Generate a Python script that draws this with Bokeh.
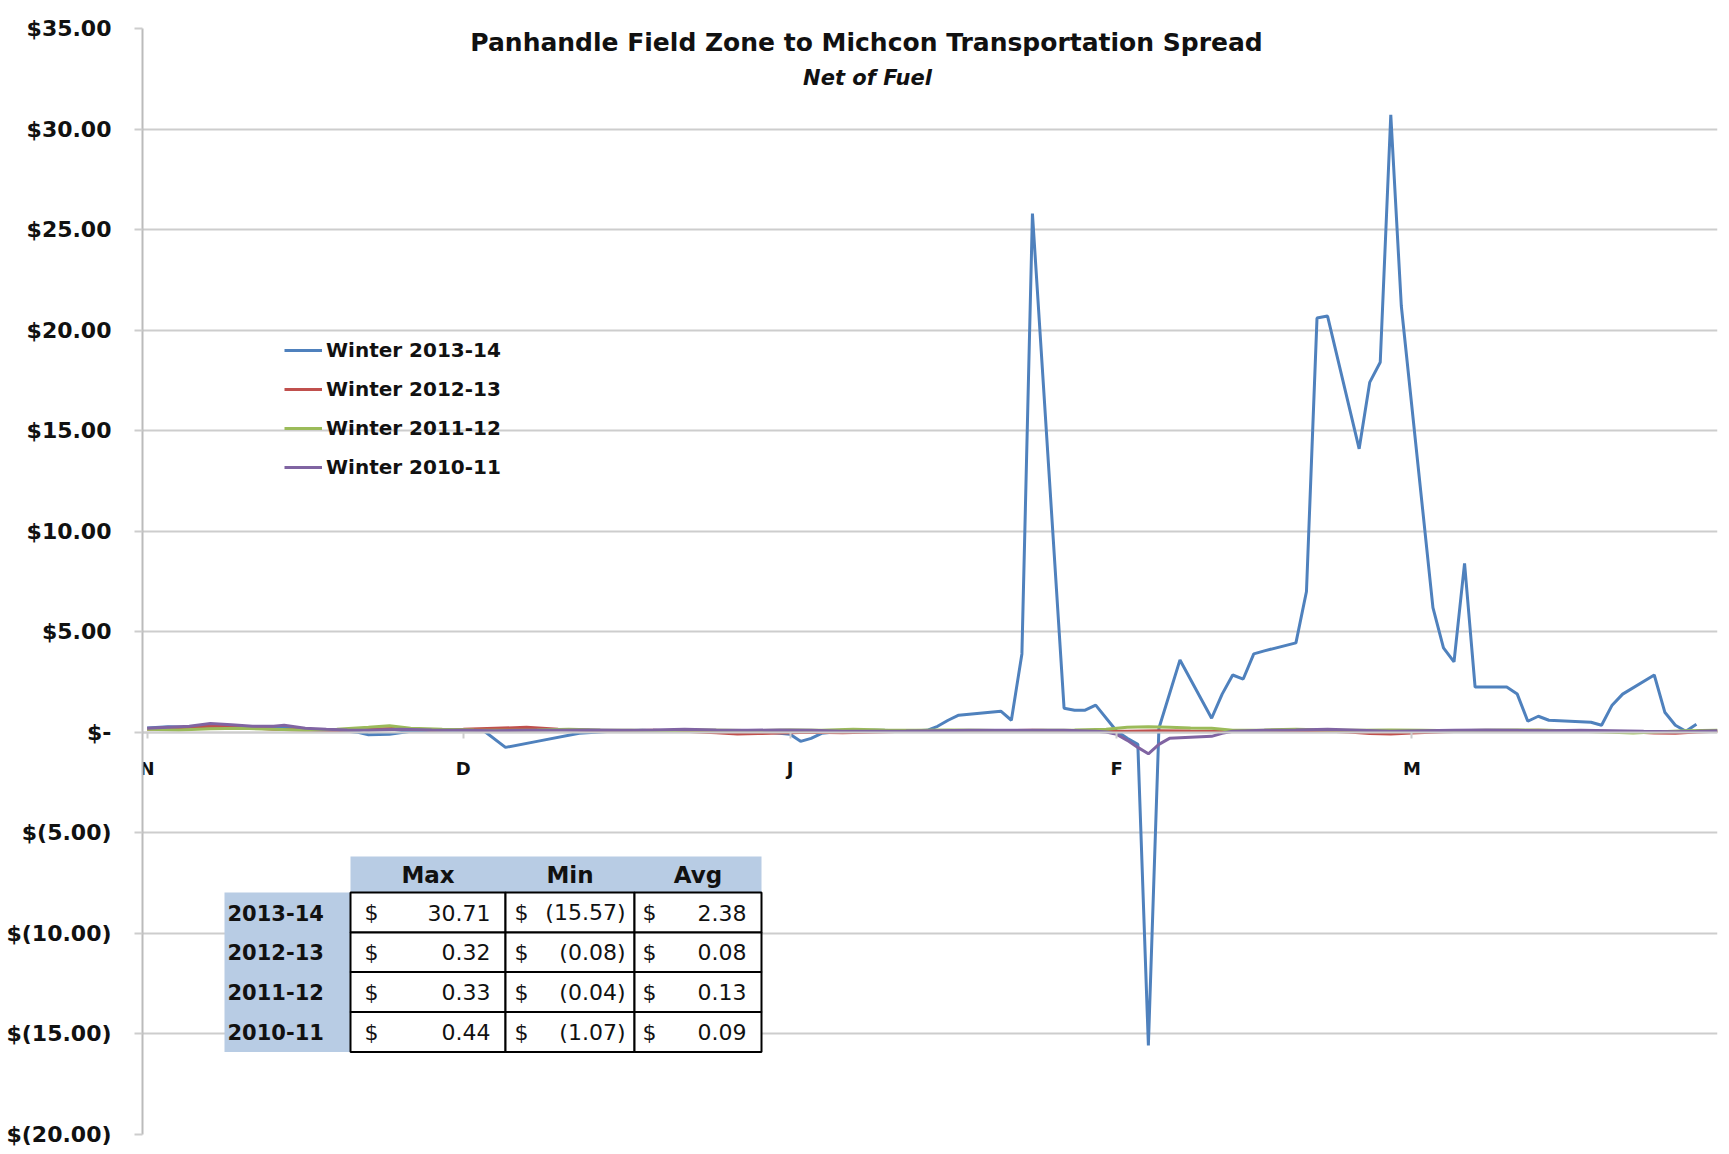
from bokeh.plotting import figure
from bokeh.models import FixedTicker, Legend, LegendItem, Label, Range1d
from bokeh.core.properties import value
from bokeh.embed import file_html
from bokeh.resources import INLINE

# ---------------- data (day index: 0 = Nov 1) ----------------
month_ticks = [0, 30, 61, 92, 120]
month_labels = ["N", "D", "J", "F", "M"]

y_ticks = [35, 30, 25, 20, 15, 10, 5, 0, -5, -10, -15, -20]
y_tick_labels = ["$35.00", "$30.00", "$25.00", "$20.00", "$15.00", "$10.00", "$5.00",
                 "$-", "$(5.00)", "$(10.00)", "$(15.00)", "$(20.00)"]

series_names = ["Winter 2013-14", "Winter 2012-13", "Winter 2011-12", "Winter 2010-11"]

days_1314 = [0, 2, 4, 6, 8, 10, 12, 14, 16, 18, 20, 21, 23, 25, 27, 29, 31, 32, 34, 37,
             41, 44, 47, 50, 53, 56, 59, 61, 62, 63, 64, 66, 69, 72, 73, 74, 75, 76, 77, 78,
             80, 81, 82, 83, 84, 87, 88, 89, 90, 92, 93, 94, 95, 96, 98, 101, 102, 103, 104, 105,
             106, 109, 110, 111, 112, 115, 116, 117, 118, 119, 122, 123, 124, 125, 126, 129, 130, 131, 132, 133,
             137, 138, 139, 140, 143, 144, 145, 146, 147]
vals_1314 = [0.22, 0.28, 0.25, 0.32, 0.28, 0.2, 0.25, 0.18, 0.12, 0.1, 0.0, -0.12, -0.1, 0.05, 0.1, 0.12, 0.1, 0.05, -0.75, -0.45,
             -0.05, 0.05, 0.1, 0.08, 0.05, 0.02, 0.0, -0.1, -0.45, -0.3, -0.05, 0.05, 0.1, 0.08, 0.08, 0.1, 0.3, 0.6, 0.85, 0.9,
             1.0, 1.05, 0.6, 3.9, 25.8, 1.2, 1.1, 1.1, 1.35, 0.05, -0.3, -0.6, -15.57, 0.2, 3.6, 0.7, 1.9, 2.85, 2.65, 3.9,
             4.05, 4.45, 7.0, 20.6, 20.7, 14.1, 17.4, 18.4, 30.71, 21.2, 6.2, 4.2, 3.5, 8.4, 2.25, 2.25, 1.9, 0.55, 0.8, 0.6,
             0.5, 0.35, 1.35, 1.9, 2.85, 1.0, 0.35, 0.05, 0.4]

days_1213 = [0, 3, 6, 9, 12, 15, 18, 21, 24, 27, 30, 33, 36, 39, 42, 45, 48, 51, 54, 56,
             58, 60, 63, 66, 69, 72, 75, 78, 81, 84, 87, 90, 93, 96, 99, 102, 105, 108, 111, 114,
             116, 118, 120, 123, 126, 129, 132, 135, 138, 141, 143, 145, 147, 149]
vals_1213 = [0.15, 0.2, 0.32, 0.25, 0.15, 0.12, 0.1, 0.15, 0.2, 0.12, 0.15, 0.2, 0.25, 0.15, 0.1, 0.08, 0.1, 0.05, -0.02, -0.08,
             -0.06, -0.04, 0.0, -0.02, 0.02, 0.05, 0.05, 0.05, 0.08, 0.1, 0.08, 0.05, 0.05, 0.08, 0.06, 0.05, 0.08, 0.1, 0.08, 0.02,
             -0.06, -0.08, -0.03, 0.03, 0.06, 0.08, 0.1, 0.06, 0.05, 0.02, -0.04, -0.05, 0.02, 0.05]

days_1112 = [0, 3, 6, 9, 12, 15, 18, 21, 23, 25, 28, 31, 34, 37, 40, 43, 46, 49, 52, 55,
             58, 61, 64, 67, 70, 73, 76, 79, 82, 85, 88, 91, 93, 95, 97, 99, 101, 103, 106, 109,
             112, 115, 118, 121, 124, 127, 130, 133, 136, 139, 141, 143, 146, 149]
vals_1112 = [0.15, 0.12, 0.18, 0.2, 0.15, 0.1, 0.15, 0.25, 0.33, 0.2, 0.15, 0.12, 0.1, 0.12, 0.15, 0.12, 0.1, 0.08, 0.12, 0.1,
             0.08, 0.12, 0.1, 0.15, 0.12, 0.1, 0.12, 0.1, 0.08, 0.1, 0.12, 0.15, 0.25, 0.28, 0.25, 0.22, 0.2, 0.1, 0.12, 0.15,
             0.12, 0.1, 0.12, 0.1, 0.08, 0.1, 0.12, 0.1, 0.05, 0.0, -0.04, 0.02, 0.08, 0.1]

days_1011 = [0, 2, 4, 6, 8, 10, 12, 13, 15, 17, 19, 21, 24, 27, 30, 33, 36, 39, 42, 45,
             48, 51, 54, 57, 60, 63, 66, 69, 72, 75, 78, 81, 84, 87, 90, 91, 92, 93, 94, 95,
             96, 97, 99, 101, 102, 103, 106, 109, 112, 115, 118, 121, 124, 127, 130, 133, 136, 139, 142, 145,
             147, 149]
vals_1011 = [0.2, 0.25, 0.3, 0.44, 0.38, 0.3, 0.3, 0.35, 0.2, 0.15, 0.12, 0.1, 0.15, 0.12, 0.1, 0.08, 0.1, 0.1, 0.12, 0.1,
             0.12, 0.15, 0.12, 0.1, 0.12, 0.1, 0.05, 0.05, 0.06, 0.08, 0.1, 0.1, 0.1, 0.1, 0.05, 0.02, -0.1, -0.4, -0.75, -1.07,
             -0.6, -0.3, -0.25, -0.2, -0.05, 0.05, 0.1, 0.12, 0.15, 0.1, 0.05, 0.08, 0.1, 0.12, 0.1, 0.08, 0.1, 0.08, 0.05, 0.03,
             0.05, 0.08]

table_cols = ["Max", "Min", "Avg"]
table_rows = ["2013-14", "2012-13", "2011-12", "2010-11"]
table_max = ["30.71", "0.32", "0.33", "0.44"]
table_min = ["(15.57)", "(0.08)", "(0.04)", "(1.07)"]
table_avg = ["2.38", "0.08", "0.13", "0.09"]

# ---------------- styling / layout ----------------
COLORS = ["#4F81BD", "#C0504D", "#9BBB59", "#8064A2"]
GRID = "#CDCDCD"
FONT = "DejaVu Sans"

FRAME_W, FRAME_H = 1575, 1106
BL, BT = 142, 28           # borders (canvas px); canvas sits at page (0,0)
X_START, X_END = -0.44, 149.0
Y_BOT, Y_TOP = -20, 35
PAGE = 0

def px2x(px):
    return X_START + (px - (PAGE + BL)) * (X_END - X_START) / FRAME_W

def px2y(py):
    return Y_TOP - (py - (PAGE + BT)) * (Y_TOP - Y_BOT) / FRAME_H

p = figure(frame_width=FRAME_W, frame_height=FRAME_H,
           x_range=Range1d(X_START, X_END), y_range=Range1d(Y_BOT, Y_TOP),
           output_backend="svg", toolbar_location=None,
           min_border_left=BL, min_border_right=6, min_border_top=BT, min_border_bottom=14)
p.outline_line_color = None
p.background_fill_color = "white"
p.border_fill_color = "white"

# grid
p.xgrid.visible = False
p.ygrid.ticker = FixedTicker(ticks=y_ticks)
p.ygrid.grid_line_color = GRID
p.ygrid.grid_line_width = 2

# y axis
p.yaxis.ticker = FixedTicker(ticks=y_ticks)
p.yaxis.major_label_overrides = dict(zip(y_ticks, y_tick_labels))
p.yaxis.major_label_text_font = FONT
p.yaxis.major_label_text_font_style = "bold"
p.yaxis.major_label_text_font_size = "22px"
p.yaxis.major_label_text_color = "#111111"
p.yaxis.major_tick_in = 0
p.yaxis.major_tick_out = 8
p.yaxis.major_tick_line_color = GRID
p.yaxis.major_tick_line_width = 2
p.yaxis.minor_tick_line_color = None
p.yaxis.axis_line_color = "#BBBBBB"
p.yaxis.axis_line_width = 2
p.yaxis.major_label_standoff = 23

# x axis crossing at zero
p.xaxis.fixed_location = 0
p.xaxis.ticker = FixedTicker(ticks=month_ticks)
p.xaxis.major_label_overrides = dict(zip(month_ticks, month_labels))
p.xaxis.major_label_text_font = FONT
p.xaxis.major_label_text_font_style = "bold"
p.xaxis.major_label_text_font_size = "18px"
p.xaxis.major_label_text_color = "#111111"
p.xaxis.major_tick_in = 0
p.xaxis.major_tick_out = 6
p.xaxis.major_tick_line_color = GRID
p.xaxis.major_tick_line_width = 2
p.xaxis.minor_tick_line_color = None
p.xaxis.axis_line_color = GRID
p.xaxis.axis_line_width = 2
p.xaxis.major_label_standoff = 20

# lines
all_days = [days_1314, days_1213, days_1112, days_1011]
all_vals = [vals_1314, vals_1213, vals_1112, vals_1011]
renderers = []
for d, v, c in zip(all_days, all_vals, COLORS):
    r = p.line(d, v, line_color=c, line_width=3)
    renderers.append(r)

legend = Legend(items=[LegendItem(label=n, renderers=[r]) for n, r in zip(series_names, renderers)],
                location=(142, 655), orientation="vertical")
legend.label_text_font = FONT
legend.label_text_font_style = "bold"
legend.label_text_font_size = "20px"
legend.label_text_color = "#111111"
legend.glyph_width = 38
legend.glyph_height = 20
legend.label_height = 20
legend.spacing = 15
legend.padding = 0
legend.margin = 0
legend.label_standoff = 4
legend.border_line_alpha = 0
legend.background_fill_alpha = 0
p.add_layout(legend)

# title
p.add_layout(Label(x=px2x(866), y=px2y(42), text="Panhandle Field Zone to Michcon Transportation Spread",
                   text_font=FONT, text_font_style="bold", text_font_size="25px",
                   text_align="center", text_baseline="middle", text_color="#111111"))
p.add_layout(Label(x=px2x(867), y=px2y(77), text="Net of Fuel",
                   text_font=FONT, text_font_style="bold italic", text_font_size="21px",
                   text_align="center", text_baseline="middle", text_color="#111111"))

# ---------------- table ----------------
col_edges = [224, 350, 505, 634, 761]
row_edges = [856, 892, 932, 971.5, 1011.5, 1051.5]
HDR_BG = "#B8CCE4"

# header background
p.quad(left=[px2x(col_edges[1])], right=[px2x(col_edges[4])],
       top=[px2y(row_edges[0])], bottom=[px2y(row_edges[1])],
       fill_color=HDR_BG, line_color=None)
# row label background
p.quad(left=[px2x(col_edges[0])], right=[px2x(col_edges[1])],
       top=[px2y(row_edges[1])], bottom=[px2y(row_edges[5])],
       fill_color=HDR_BG, line_color=None)
# data cells
cl, cr, ct, cb = [], [], [], []
for i in range(len(table_rows)):
    for j in range(len(table_cols)):
        cl.append(px2x(col_edges[j + 1])); cr.append(px2x(col_edges[j + 2]))
        ct.append(px2y(row_edges[i + 1])); cb.append(px2y(row_edges[i + 2]))
p.quad(left=cl, right=cr, top=ct, bottom=cb, fill_color="white", line_color="black", line_width=2)

def txt(xs, ys, texts, align, bold=False, size="20px"):
    p.text(x=xs, y=ys, text=texts, text_font=value(FONT), text_font_size=value(size),
           text_font_style="bold" if bold else "normal", text_align=align,
           text_baseline="middle", text_color="#111111")

hdr_y = px2y(874)
txt([px2x((col_edges[j + 1] + col_edges[j + 2]) / 2) for j in range(3)], [hdr_y] * 3, table_cols,
    "center", bold=True, size="23px")
row_y = [px2y((row_edges[i + 1] + row_edges[i + 2]) / 2) for i in range(4)]
txt([px2x(227)] * 4, row_y, table_rows, "left", bold=True, size="21px")

dollar_x = [364, 514, 642]
num_right = [490, 625, 746]
for j, col in enumerate([table_max, table_min, table_avg]):
    txt([px2x(dollar_x[j])] * 4, row_y, ["$"] * 4, "left", size="22px")
    txt([px2x(num_right[j])] * 4, row_y, col, "right", size="22px")

open("out.html", "w").write(file_html(p, INLINE))
